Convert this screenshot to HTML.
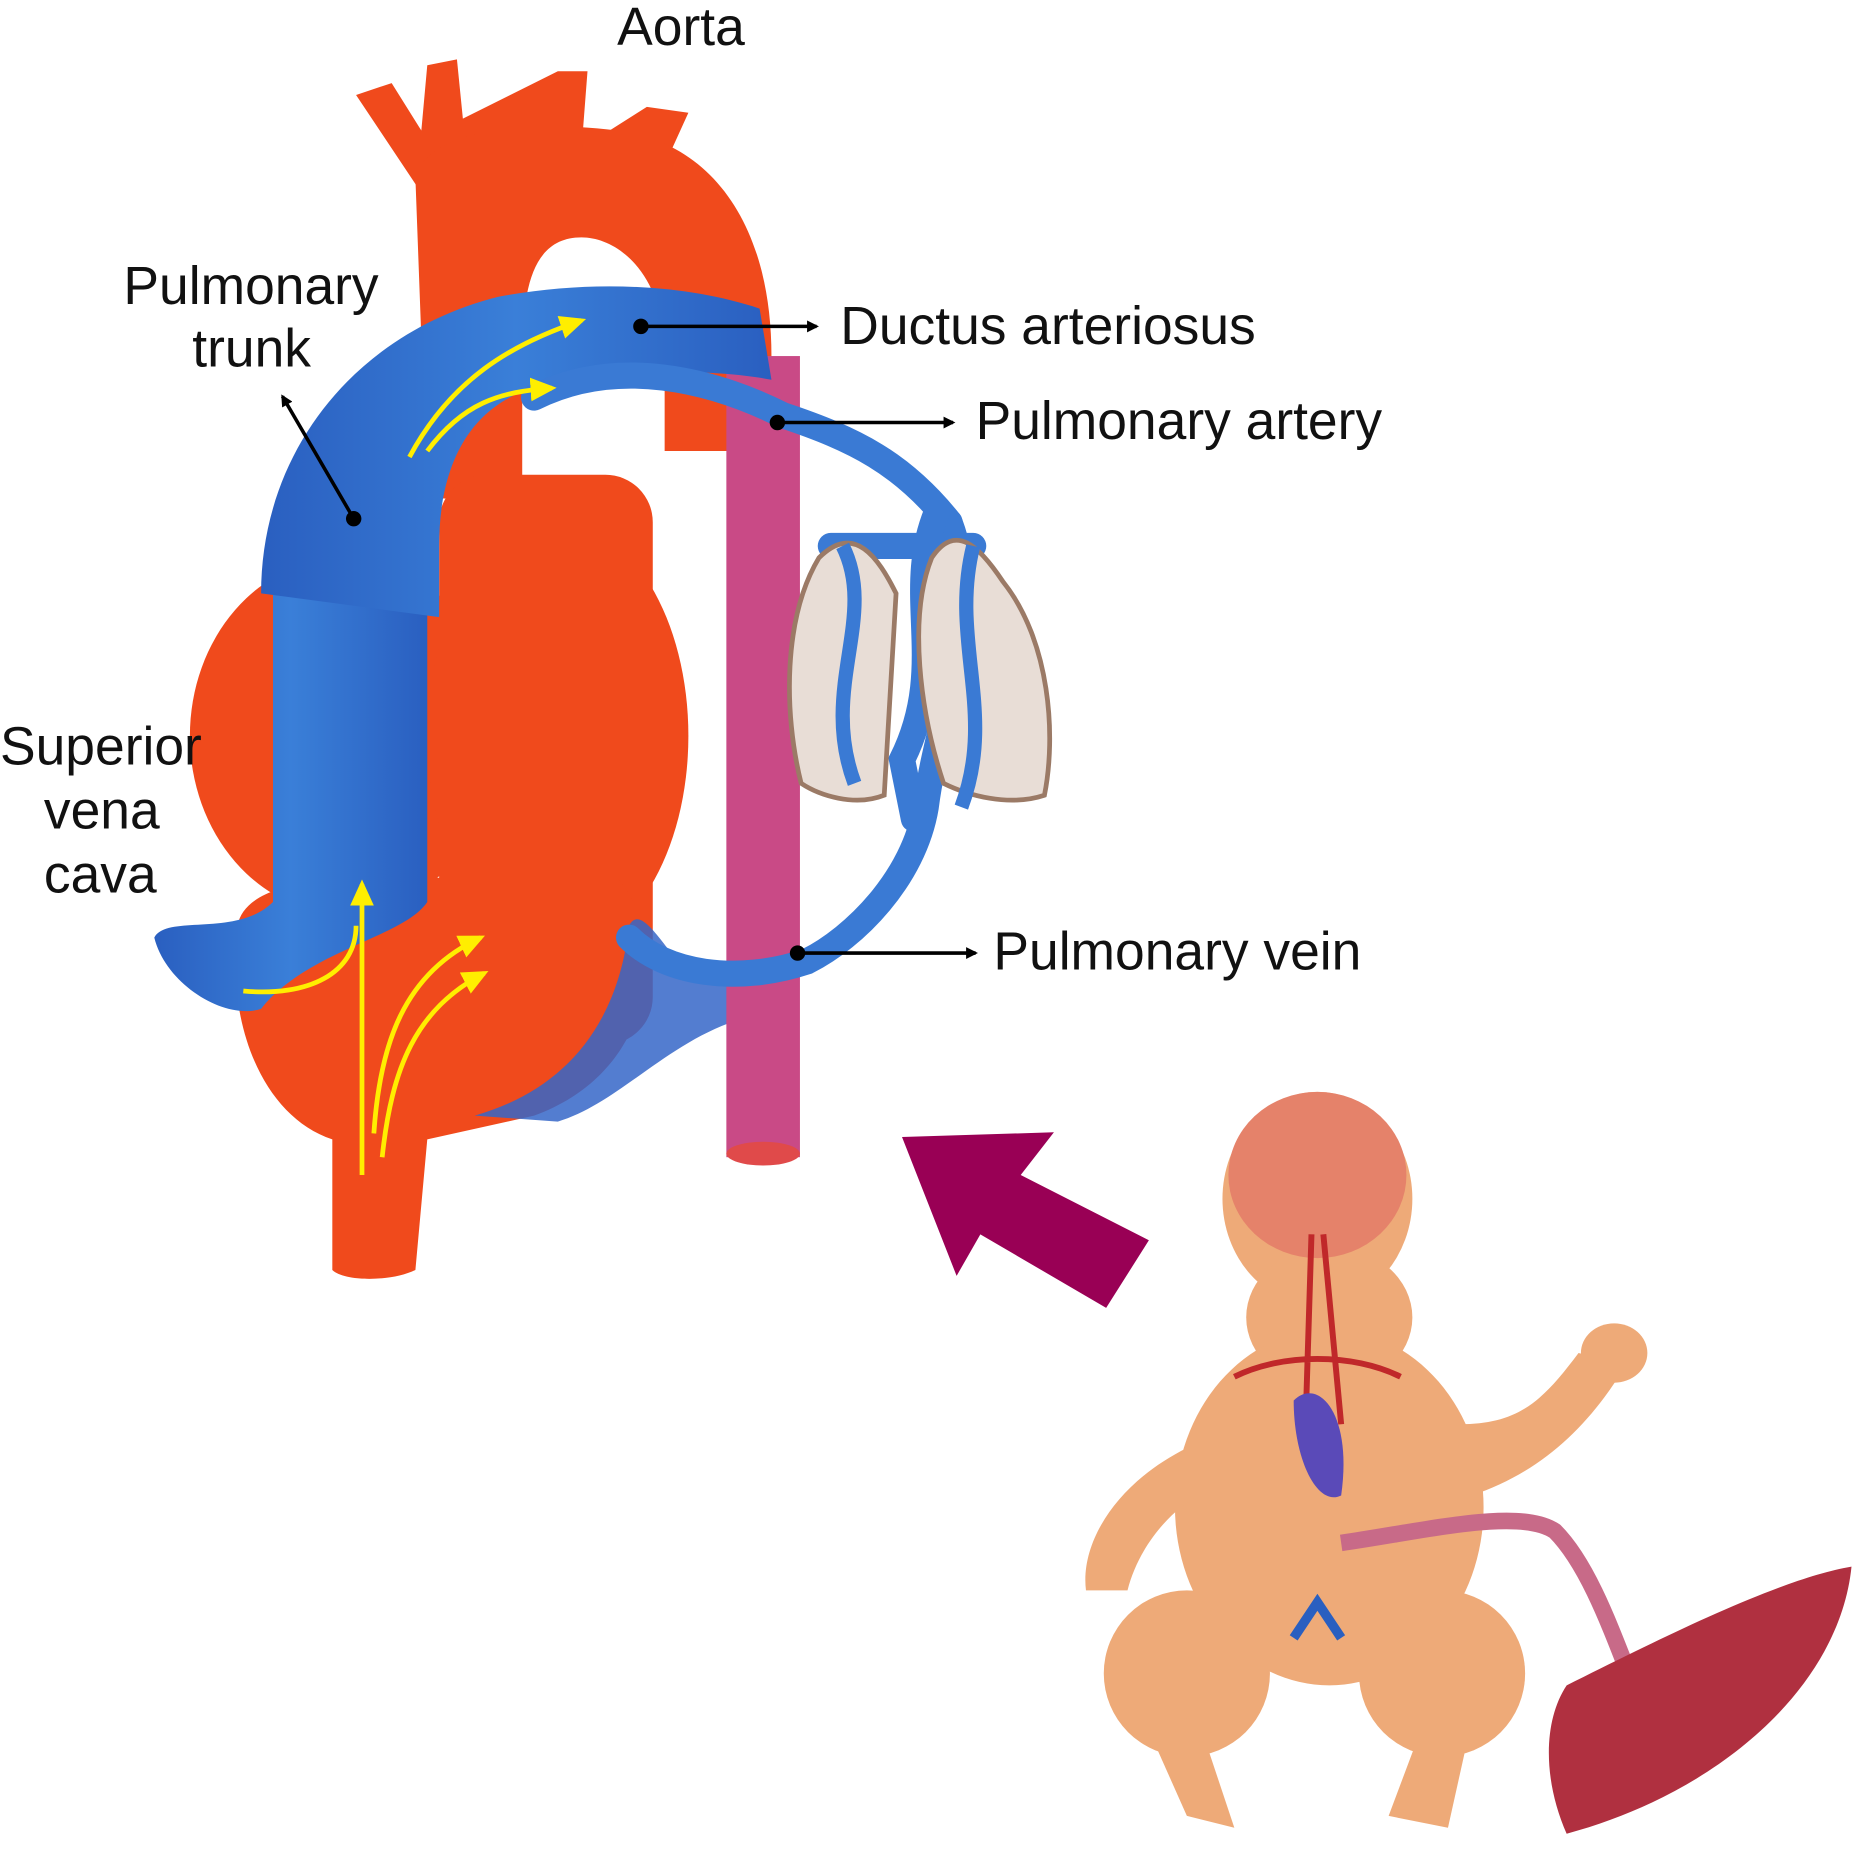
<!DOCTYPE html>
<html><head><meta charset="utf-8"><style>
html,body{margin:0;padding:0;background:#fff;}
svg{display:block;}
text{font-family:"Liberation Sans",sans-serif;font-size:45px;fill:#111;}
</style></head><body>
<svg width="1861" height="1861" viewBox="0 0 1568 1568" xmlns="http://www.w3.org/2000/svg">
<defs>
<linearGradient id="bl" x1="0" y1="0" x2="1" y2="0"><stop offset="0" stop-color="#2a5fc0"/><stop offset="0.5" stop-color="#3a7fd8"/><stop offset="1" stop-color="#2a5fc0"/></linearGradient>
<marker id="ah" markerWidth="10" markerHeight="10" refX="8" refY="5" orient="auto" markerUnits="userSpaceOnUse"><path d="M0,0 L10,5 L0,10z" fill="#000"/></marker>
<marker id="ya" markerWidth="24" markerHeight="24" refX="18" refY="12" orient="auto" markerUnits="userSpaceOnUse"><path d="M0,2 L22,12 L0,22z" fill="#ffee00"/></marker>
</defs>
<g fill="#f04a1c">
<path d="M300,80 L330,70 L355,110 L360,55 L385,50 L390,100 L470,60 L495,60 L490,125 L545,90 L580,95 L555,150 L450,160 L360,170z"/>
<path d="M350,150 C360,110 440,100 520,110 C600,120 650,190 650,300 L650,380 L560,380 L560,300 C560,230 520,200 490,200 C450,200 440,240 440,300 L440,420 L360,420 Z"/>
<ellipse cx="290" cy="620" rx="130" ry="150"/>
<ellipse cx="470" cy="620" rx="110" ry="180"/>
<rect x="370" y="400" width="180" height="480" rx="40"/>
<path d="M200,780 C210,730 330,740 400,740 L520,740 C560,780 560,900 450,940 L360,960 L350,1070 C330,1080 290,1080 280,1070 L280,960 C220,940 190,860 200,780z"/>
</g>
<path d="M400,940 C470,920 520,870 530,780 C540,760 560,800 580,820 L620,820 L620,860 C560,880 520,930 470,945z" fill="#3566c8" opacity="0.85"/>
<rect x="612" y="300" width="62" height="675" fill="#c94a86"/>
<ellipse cx="643" cy="972" rx="31" ry="10" fill="#e04a4a"/>
<path d="M130,790 C140,770 200,790 230,760 L230,500 L360,500 L360,760 C340,790 260,800 220,850 C190,860 140,830 130,790z" fill="url(#bl)"/>
<path d="M220,500 C220,380 300,280 420,250 C500,235 580,240 640,260 L650,320 C600,310 500,310 440,330 C390,350 370,400 370,460 L370,520 Z" fill="url(#bl)"/>
<g fill="none" stroke="#3a7ad4" stroke-width="22" stroke-linecap="round">
<path d="M450,335 C520,300 600,320 660,350 C720,370 760,390 800,440"/>
<path d="M800,440 C830,520 790,600 780,680 C770,740 720,790 680,810 C620,830 560,820 530,790"/>
<path d="M790,430 C760,500 800,560 760,640 L770,690"/>
<path d="M700,460 L820,460"/>
</g>
<path d="M690,470 C720,440 740,470 755,500 L745,670 C720,680 690,670 675,660 C660,600 660,520 690,470z" fill="#e8ddd6" stroke="#9b7a66" stroke-width="4"/>
<path d="M785,470 C805,440 825,460 845,490 C885,540 890,620 880,670 C850,680 815,670 795,660 C775,600 765,520 785,470z" fill="#e8ddd6" stroke="#9b7a66" stroke-width="4"/>
<path d="M710,460 C740,520 690,580 720,660 M820,460 C800,540 840,600 810,680" stroke="#3a7ad4" stroke-width="12" fill="none"/>
<g fill="none" stroke="#ffee00" stroke-width="4">
<path d="M345,385 C380,320 430,290 490,270" marker-end="url(#ya)"/>
<path d="M360,380 C390,340 420,330 465,327" marker-end="url(#ya)"/>
<path d="M305,990 L305,745" marker-end="url(#ya)"/>
<path d="M205,835 C260,840 300,820 300,780"/>
<path d="M315,955 C320,880 340,820 405,790" marker-end="url(#ya)"/>
<path d="M322,975 C330,900 350,850 408,820" marker-end="url(#ya)"/>
</g>
<g stroke="#000" stroke-width="3" fill="#000">
<circle cx="540" cy="275" r="5"/><line x1="540" y1="275" x2="688" y2="275" marker-end="url(#ah)"/>
<circle cx="655" cy="356" r="5"/><line x1="655" y1="356" x2="803" y2="356" marker-end="url(#ah)"/>
<circle cx="672" cy="803" r="5"/><line x1="672" y1="803" x2="822" y2="803" marker-end="url(#ah)"/>
<circle cx="298" cy="437" r="5"/><line x1="298" y1="437" x2="238" y2="334" marker-end="url(#ah)"/>
</g>
<text x="520" y="38">Aorta</text>
<text x="104" y="256">Pulmonary</text>
<text x="162" y="309">trunk</text>
<text x="708" y="290">Ductus arteriosus</text>
<text x="822" y="370">Pulmonary artery</text>
<text x="837" y="817">Pulmonary vein</text>
<text x="0" y="644">Superior</text>
<text x="37" y="698">vena</text>
<text x="37" y="752">cava</text>
<path d="M760,958 L888,954 L860,990 L968,1045 L932,1102 L826,1040 L806,1075 Z" fill="#990055"/>
<g fill="#eeaa78">
<ellipse cx="1110" cy="1010" rx="80" ry="90"/>
<ellipse cx="1120" cy="1110" rx="70" ry="60"/>
<ellipse cx="1120" cy="1270" rx="130" ry="150"/>
<path d="M1000,1220 C940,1250 910,1300 915,1340 L950,1340 C960,1300 990,1270 1010,1260z"/>
<path d="M1230,1200 C1280,1200 1300,1180 1330,1140 L1370,1150 C1340,1200 1300,1240 1240,1260z"/>
<ellipse cx="1360" cy="1140" rx="28" ry="25"/>
<ellipse cx="1000" cy="1410" rx="70" ry="70"/>
<ellipse cx="1215" cy="1410" rx="70" ry="70"/>
<path d="M960,1440 L1000,1530 L1040,1540 L1010,1450z"/>
<path d="M1200,1450 L1170,1530 L1220,1540 L1240,1450z"/>
</g>
<ellipse cx="1110" cy="990" rx="75" ry="70" fill="#e5826a"/>
<path d="M1105,1040 L1100,1200 M1115,1040 L1130,1200 M1040,1160 C1080,1140 1140,1140 1180,1160" stroke="#c0282a" stroke-width="5" fill="none"/>
<path d="M1090,1180 C1110,1160 1140,1190 1130,1260 C1110,1270 1090,1230 1090,1180z" fill="#5a4ab8"/>
<path d="M1090,1380 L1110,1350 L1130,1380" stroke="#2a5fc0" stroke-width="8" fill="none"/>
<path d="M1130,1300 C1200,1290 1280,1270 1310,1290 C1340,1320 1360,1380 1380,1430" stroke="#c86a88" stroke-width="14" fill="none"/>
<path d="M1320,1420 C1400,1380 1500,1330 1560,1320 C1550,1420 1450,1510 1320,1545 C1300,1500 1300,1450 1320,1420z" fill="#b03040"/>
</svg>
</body></html>
